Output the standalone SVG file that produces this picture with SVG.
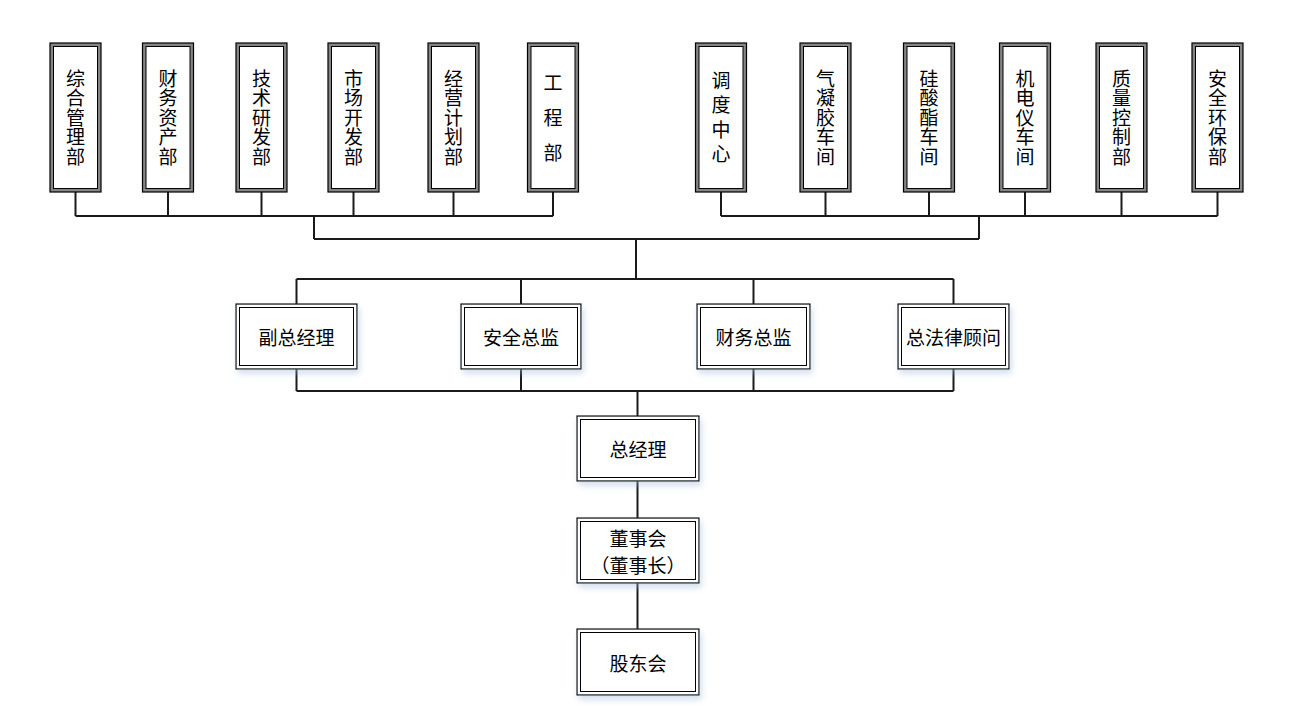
<svg xmlns="http://www.w3.org/2000/svg" width="1289" height="709" viewBox="0 0 1289 709">
<defs>
<filter id="sh" x="-20%" y="-20%" width="140%" height="160%">
<feDropShadow dx="2" dy="4" stdDeviation="3" flood-color="#9db6d6" flood-opacity="0.45"/>
</filter>
<style>
.to{fill:#858585;stroke:#000;stroke-width:1.2}
.ti{fill:#fff;stroke:#000;stroke-width:1}
.mo{fill:#fff;stroke:#000;stroke-width:1.2}
.mi{fill:none;stroke:#000;stroke-width:1}
text{font-family:"Noto Sans CJK SC","Noto Sans CJK JP",sans-serif;font-size:19px;fill:#000;text-anchor:middle;dominant-baseline:central}
.v5,.v4,.v3{writing-mode:vertical-rl;text-orientation:upright}
.v5{letter-spacing:0.5px}
.v4{letter-spacing:5.5px}
.v3{letter-spacing:16px}
.c{fill:none;stroke:#1a1a1a;stroke-width:2}
</style>
</defs>
<rect width="1289" height="709" fill="#fff"/>
<g id="connectors">
<path class="c" d="M75.5 192V216M168 192V216M261.5 192V216M353.5 192V216M453.5 192V216M553 192V216M75.5 216H553"/>
<path class="c" d="M721 192V216M825.5 192V216M929 192V216M1025 192V216M1121.5 192V216M1217.5 192V216M721 216H1217.5"/>
<path class="c" d="M314 216V239M979 216V239M314 239H979M636 239V279M296.5 279H953.5M296.5 279V304M521 279V304M753.5 279V304M953.5 279V304"/>
<path class="c" d="M296.5 369V391M521 369V391M753.5 369V391M953.5 369V391M296.5 391H953.5M637.5 391V416M637.5 481V518M637.5 583V629"/>
</g>
<g id="n1"><rect class="to" x="50" y="43" width="51" height="149"/><rect class="ti" x="53.5" y="46.5" width="44" height="142"/><text class="v5" x="75.5" y="117.75">综合管理部</text></g>
<g id="n2"><rect class="to" x="142.5" y="43" width="51" height="149"/><rect class="ti" x="146" y="46.5" width="44" height="142"/><text class="v5" x="168" y="117.75">财务资产部</text></g>
<g id="n3"><rect class="to" x="236" y="43" width="51" height="149"/><rect class="ti" x="239.5" y="46.5" width="44" height="142"/><text class="v5" x="261.5" y="117.75">技术研发部</text></g>
<g id="n4"><rect class="to" x="328" y="43" width="51" height="149"/><rect class="ti" x="331.5" y="46.5" width="44" height="142"/><text class="v5" x="353.5" y="117.75">市场开发部</text></g>
<g id="n5"><rect class="to" x="428" y="43" width="51" height="149"/><rect class="ti" x="431.5" y="46.5" width="44" height="142"/><text class="v5" x="453.5" y="117.75">经营计划部</text></g>
<g id="n6"><rect class="to" x="527.5" y="43" width="51" height="149"/><rect class="ti" x="531" y="46.5" width="44" height="142"/><text class="v3" x="553" y="125.5">工程部</text></g>
<g id="n7"><rect class="to" x="695.5" y="43" width="51" height="149"/><rect class="ti" x="699" y="46.5" width="44" height="142"/><text class="v4" x="721" y="120.25">调度中心</text></g>
<g id="n8"><rect class="to" x="800" y="43" width="51" height="149"/><rect class="ti" x="803.5" y="46.5" width="44" height="142"/><text class="v5" x="825.5" y="117.75">气凝胶车间</text></g>
<g id="n9"><rect class="to" x="903.5" y="43" width="51" height="149"/><rect class="ti" x="907" y="46.5" width="44" height="142"/><text class="v5" x="929" y="117.75">硅酸酯车间</text></g>
<g id="n10"><rect class="to" x="999.5" y="43" width="51" height="149"/><rect class="ti" x="1003" y="46.5" width="44" height="142"/><text class="v5" x="1025" y="117.75">机电仪车间</text></g>
<g id="n11"><rect class="to" x="1096" y="43" width="51" height="149"/><rect class="ti" x="1099.5" y="46.5" width="44" height="142"/><text class="v5" x="1121.5" y="117.75">质量控制部</text></g>
<g id="n12"><rect class="to" x="1192" y="43" width="51" height="149"/><rect class="ti" x="1195.5" y="46.5" width="44" height="142"/><text class="v5" x="1217.5" y="117.75">安全环保部</text></g>
<g id="m1"><rect class="mo" x="236" y="304" width="121" height="65" filter="url(#sh)"/><rect class="mi" x="239.5" y="307.5" width="114" height="58"/><text x="296.5" y="336.5">副总经理</text></g>
<g id="m2"><rect class="mo" x="461" y="304" width="120" height="65" filter="url(#sh)"/><rect class="mi" x="464.5" y="307.5" width="113" height="58"/><text x="521" y="336.5">安全总监</text></g>
<g id="m3"><rect class="mo" x="697" y="304" width="113" height="65" filter="url(#sh)"/><rect class="mi" x="700.5" y="307.5" width="106" height="58"/><text x="753.5" y="336.5">财务总监</text></g>
<g id="m4"><rect class="mo" x="898" y="304" width="111" height="65" filter="url(#sh)"/><rect class="mi" x="901.5" y="307.5" width="104" height="58"/><text x="953.5" y="336.5">总法律顾问</text></g>
<g id="b1"><rect class="mo" x="577" y="416" width="122" height="65" filter="url(#sh)"/><rect class="mi" x="580.5" y="419.5" width="115" height="58"/><text x="638" y="448.5">总经理</text></g>
<g id="b2"><rect class="mo" x="577" y="518" width="122" height="65" filter="url(#sh)"/><rect class="mi" x="580.5" y="521.5" width="115" height="58"/><text x="638" y="537.5">董事会</text><text x="638" y="564.5">（董事长）</text></g>
<g id="b3"><rect class="mo" x="577" y="629" width="122" height="66" filter="url(#sh)"/><rect class="mi" x="580.5" y="632.5" width="115" height="59"/><text x="638" y="662">股东会</text></g>
</svg>
